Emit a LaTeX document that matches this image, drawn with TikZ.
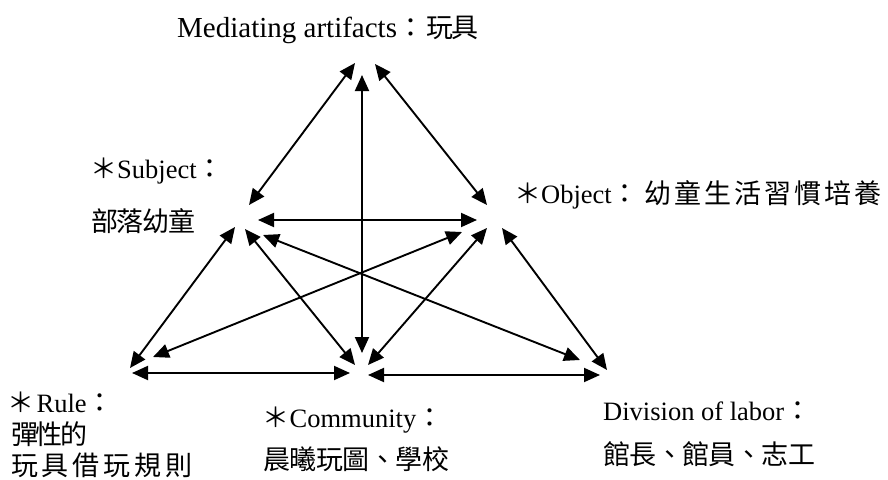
\documentclass[tikz,border=0pt]{standalone}
\usepackage{fontspec}
\setmainfont{Liberation Serif}
\newfontfamily\cjk{Noto Sans CJK TC}
\usetikzlibrary{arrows.meta}
\ExplSyntaxOn
\NewDocumentCommand\spc{mm}{\tl_map_inline:nn{#2}{\makebox[#1][l]{##1}}}
\ExplSyntaxOff
\newcommand\cjkf{\cjk\fontsize{27}{30}\selectfont}
\tikzset{
  lab/.style={anchor=base west, inner sep=0pt, font=\fontsize{26.5}{30}\selectfont},
  conn/.style={line width=1.9pt, {Triangle[length=16pt,width=14pt]}-{Triangle[length=16pt,width=14pt]}}
}
\begin{document}
\begin{tikzpicture}[x=1pt,y=-1pt]
\useasboundingbox[fill=white] (0,0) rectangle (888,479);
% endpoints
\coordinate (mS) at (355,63);
\coordinate (mV) at (362,75);
\coordinate (mO) at (375,64);
\coordinate (sM) at (249,205);
\coordinate (sO) at (258,220);
\coordinate (sR) at (235,227);
\coordinate (sC) at (245,229);
\coordinate (sD) at (263,235);
\coordinate (oM) at (487,205);
\coordinate (oS) at (477,220);
\coordinate (oR) at (462,232);
\coordinate (oC) at (487,228);
\coordinate (oD) at (502,228);
\coordinate (rS) at (130,368);
\coordinate (rO) at (153,357);
\coordinate (rC) at (132,373);
\coordinate (cR) at (350,373);
\coordinate (cS) at (355,365);
\coordinate (cM) at (362,353);
\coordinate (cO) at (368,365);
\coordinate (cD) at (368,375);
\coordinate (dC) at (600,375);
\coordinate (dS) at (580,360);
\coordinate (dO) at (607,370);
% connectors
\draw[conn] (mS) -- (sM);
\draw[conn] (mO) -- (oM);
\draw[conn] (mV) -- (cM);
\draw[conn] (sO) -- (oS);
\draw[conn] (sR) -- (rS);
\draw[conn] (sC) -- (cS);
\draw[conn] (sD) -- (dS);
\draw[conn] (oR) -- (rO);
\draw[conn] (oC) -- (cO);
\draw[conn] (oD) -- (dO);
\draw[conn] (rC) -- (cR);
\draw[conn] (cD) -- (dC);
% labels
\node[lab] (med) at (177,37) {{\fontsize{29}{32}\selectfont Mediating artifacts}{\cjkf ：}\hspace{2pt}{\cjkf\spc{25pt}{玩具}}};
\node[lab] (subj1) at (90,178) {{\cjkf ＊}Subject{\cjkf ：}};
\node[lab] (subj2) at (91,231) {\cjkf\spc{25.7pt}{部落幼童}};
\node[lab] (obj) at (514,203) {{\cjkf ＊}Object{\cjkf ：}\hspace{6pt}{\cjkf\spc{30pt}{幼童生活習慣培養}}};
\node[lab] (rule1) at (7.5,412) {{\cjkf ＊}\hspace{2pt}Rule{\cjkf ：}};
\node[lab] (rule2) at (11,444) {\cjkf\spc{24.5pt}{彈性的}};
\node[lab] (rule3) at (11,475) {\cjkf\spc{30.8pt}{玩具借玩規則}};
\node[lab] (com1) at (262,427) {{\cjkf ＊}\hspace{0.5pt}Community{\cjkf ：}};
\node[lab] (com2) at (263,469) {\cjkf\spc{26.5pt}{晨曦玩圖、學校}};
\node[lab] (div1) at (603,420) {Division of labor{\cjkf ：}};
\node[lab] (div2) at (603,464) {\cjkf\spc{26.4pt}{館長、館員、志工}};
\end{tikzpicture}
\end{document}
